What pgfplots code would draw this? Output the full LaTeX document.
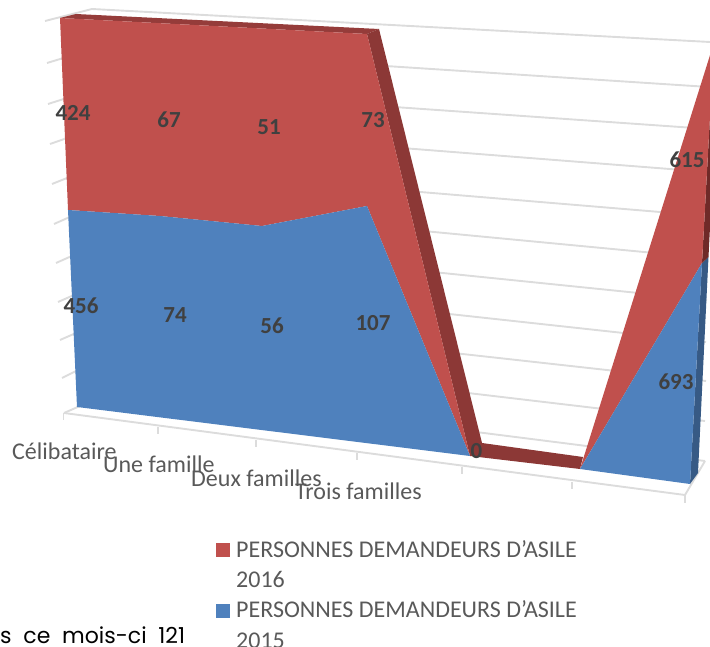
\documentclass[border=0pt]{standalone}
\usepackage{fontspec}
\setmainfont{Carlito}
\newfontfamily\comic[WordSpace=2]{Poppins}
\usepackage{pgfplots}
\pgfplotsset{compat=1.18}
\definecolor{cred}{HTML}{C0504D}
\definecolor{cblue}{HTML}{4F81BD}
\definecolor{dred}{HTML}{8C3836}
\definecolor{tred}{HTML}{953C3A}
\definecolor{rred}{HTML}{6F2A28}
\definecolor{dblue}{HTML}{375A85}
\definecolor{grid}{HTML}{DCDCDC}
\definecolor{lab}{HTML}{595959}
\definecolor{val}{HTML}{404040}
\tikzset{
  grid line/.style={draw=grid, line width=1.9pt},
  face/.style={draw=none},
  vlab/.style={font=\fontsize{23}{23}\selectfont\bfseries, text=val, inner sep=0pt, anchor=center},
  clab/.style={font=\fontsize{24}{24}\selectfont, text=lab, inner sep=0pt, anchor=base west},
}
\begin{document}
\begin{tikzpicture}
\path[use as bounding box] (0,0) rectangle (710pt,647pt);
\begin{axis}[
  at={(0,0)}, anchor=south west,
  scale only axis, width=710pt, height=647pt,
  xmin=0, xmax=710, ymin=0, ymax=647, y dir=reverse,
  hide axis, clip=true,
  every axis plot/.append style={no markers},
]
% back wall gridlines
\addplot[grid line] coordinates {(92,9) (710,42)};
\addplot[grid line] coordinates {(93,47) (709,87)};
\addplot[grid line] coordinates {(94,86) (709,129)};
\addplot[grid line] coordinates {(96,124) (708,172)};
\addplot[grid line] coordinates {(97,165) (708,216)};
\addplot[grid line] coordinates {(98,200) (707,258)};
\addplot[grid line] coordinates {(100,238) (707,300)};
\addplot[grid line] coordinates {(101,276) (706,342)};
\addplot[grid line] coordinates {(102,314) (706,381)};
\addplot[grid line] coordinates {(104,350) (705,421)};
\addplot[grid line] coordinates {(105,385) (705,461)};
% side wall ticks
\addplot[grid line] coordinates {(45,21) (92,9)};
\addplot[grid line] coordinates {(47,63) (70,56)};
\addplot[grid line] coordinates {(48,104) (70,97)};
\addplot[grid line] coordinates {(50,144) (70,137)};
\addplot[grid line] coordinates {(52,184) (72,176)};
\addplot[grid line] coordinates {(54,224) (72,216)};
\addplot[grid line] coordinates {(56,263) (74,255)};
\addplot[grid line] coordinates {(58,302) (74,295)};
\addplot[grid line] coordinates {(60,340) (76,333)};
\addplot[grid line] coordinates {(62,378) (76,371)};
% floor
\addplot[grid line] coordinates {(64,413) (80,406)};
\addplot[grid line] coordinates {(64,413) (685,495) (705,461)};
\addplot[grid line] coordinates {(63.5,413) (63.5,420)};
\addplot[grid line] coordinates {(158,427) (158,434)};
\addplot[grid line] coordinates {(256,440) (256,447)};
\addplot[grid line] coordinates {(357,453) (357,460)};
\addplot[grid line] coordinates {(462,467) (462,474)};
\addplot[grid line] coordinates {(572,482) (572,489)};
\addplot[grid line] coordinates {(685,495) (685,503)};
% 3D sides
\addplot[face, fill=tred] coordinates {(60,18) (76,14) (379,29) (367,34)} -- cycle;
\addplot[face, fill=dred] coordinates {(367,34) (379,29) (482,443) (583,457) (580,469) (470,456)} -- cycle;
\addplot[face, fill=dblue] coordinates {(690,484) (698,473) (708.5,257) (702,263)} -- cycle;
\addplot[face, fill=rred] coordinates {(702,263) (708.5,257) (711,207) (711,98)} -- cycle;
% red 2016
\addplot[face, fill=cred] coordinates {(60,18) (367,34) (470,456) (367,206) (262,226) (160,216) (68,210)} -- cycle;
\addplot[face, fill=cred] coordinates {(580,469) (711,52) (711,98) (702,263)} -- cycle;
% blue 2015
\addplot[face, fill=cblue] coordinates {(68,210) (160,216) (262,226) (367,206) (470,456) (77,407)} -- cycle;
\addplot[face, fill=cblue] coordinates {(580,469) (702,263) (690,484)} -- cycle;
% legend keys
\addplot[face, fill=cred] coordinates {(216,543) (230,543) (230,557) (216,557)} -- cycle;
\addplot[face, fill=cblue] coordinates {(216,604) (230,604) (230,618) (216,618)} -- cycle;
% data labels
\node[vlab] at (axis cs:73,113) {424};
\node[vlab] at (axis cs:169,120) {67};
\node[vlab] at (axis cs:269,127) {51};
\node[vlab] at (axis cs:373,120) {73};
\node[vlab] at (axis cs:687,160) {615};
\node[vlab] at (axis cs:81,306) {456};
\node[vlab] at (axis cs:175,315) {74};
\node[vlab] at (axis cs:272,326) {56};
\node[vlab] at (axis cs:373,323) {107};
\node[vlab] at (axis cs:476.5,451) {0};
\node[vlab] at (axis cs:676,382) {693};
% category labels
\node[clab] at (axis cs:12,459) {Célibataire};
\node[clab] at (axis cs:103,472) {Une famille};
\node[clab] at (axis cs:191,486) {Deux familles};
\node[clab] at (axis cs:295,499) {Trois familles};
% legend
\node[clab] at (axis cs:236,557) {PERSONNES DEMANDEURS D{\char"27}ASILE};
\node[clab] at (axis cs:236,587) {2016};
\node[clab] at (axis cs:236,617) {PERSONNES DEMANDEURS D{\char"27}ASILE};
\node[clab] at (axis cs:236,648) {2015};
% cut-off text of the page
\node[inner sep=0pt, anchor=base west, text=black, font=\fontsize{22}{22}\selectfont\comic] at (axis cs:0,643) {s ce mois-ci 121};
\end{axis}
\end{tikzpicture}
\end{document}
